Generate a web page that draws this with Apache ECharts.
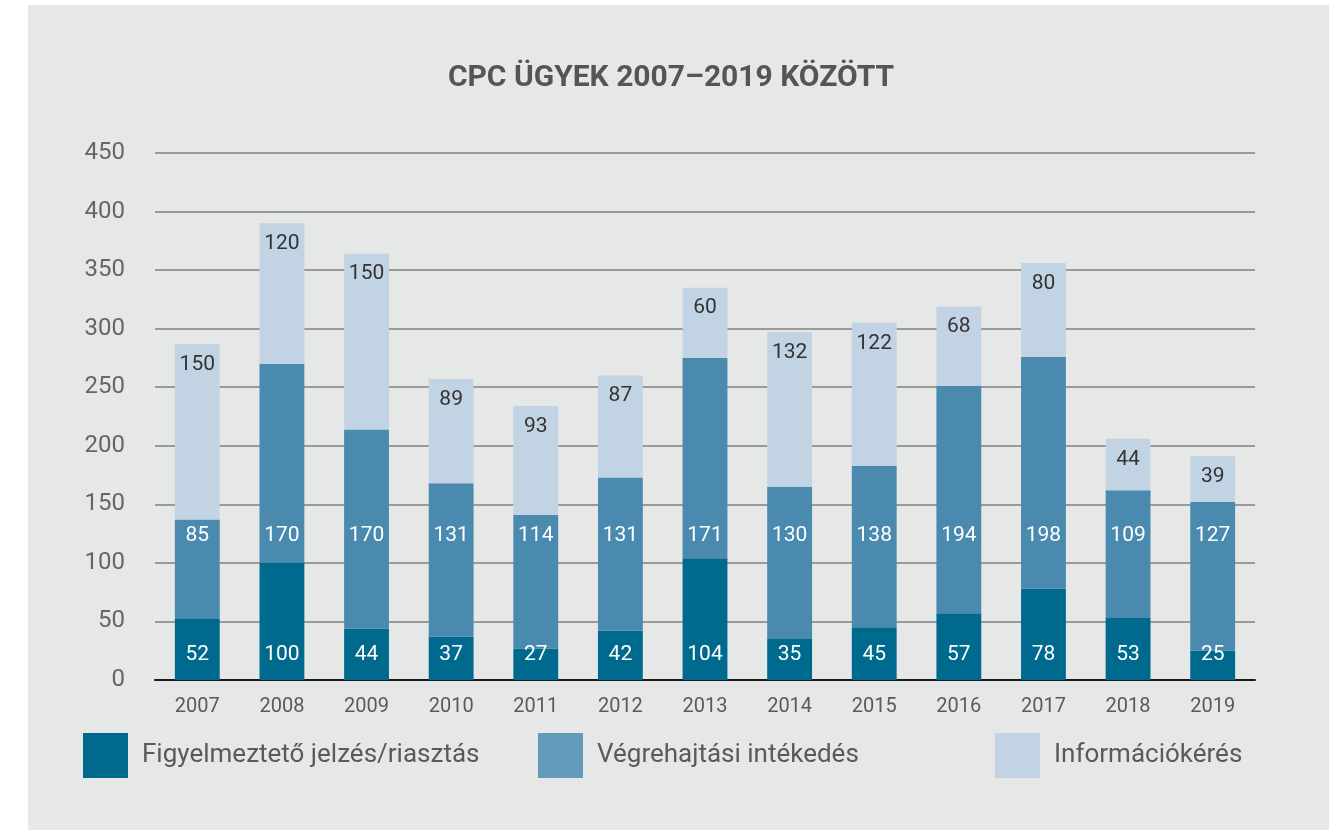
<!DOCTYPE html>
<html>
<head>
<meta charset="utf-8">
<script src="https://cdn.jsdelivr.net/npm/echarts@6/dist/echarts.min.js"></script>
<style>
html,body{margin:0;padding:0;background:#fff;}
#main{width:1342px;height:830px;}
</style>
</head>
<body>
<div id="main"></div>
<script>
const categories = ['2007','2008','2009','2010','2011','2012','2013','2014','2015','2016','2017','2018','2019'];
const figyelmezteto = [52,100,44,37,27,42,104,35,45,57,78,53,25];
const vegrehajtasi = [85,170,170,131,114,131,171,130,138,194,198,109,127];
const informacio = [150,120,150,89,93,87,60,132,122,68,80,44,39];
const seriesNames = ['Figyelmeztető jelzés/riasztás','Végrehajtási intékedés','Információkérés'];
const yTicks = [0,50,100,150,200,250,300,350,400,450];

const FONT = 'Roboto';
const cDark = '#006a8e', cMid = '#4a8aae', cLight = '#c2d3e3';
const legendColors = ['#006a8e','#6399b9','#c2d3e3'];

const chart = echarts.init(document.getElementById('main'));

function legend(i, left){
  return {
    data:[{name:seriesNames[i], itemStyle:{color:legendColors[i]}}],
    left:left, top:733, padding:0,
    itemWidth:45, itemHeight:45, icon:'rect',
    textStyle:{fontFamily:FONT, fontSize:26, color:'#5a5a5a', padding:[8,0,0,9]},
    selectedMode:false
  };
}

const option = {
  backgroundColor:'#ffffff',
  animation:false,
  graphic:[{type:'rect', z:-10, silent:true, shape:{x:28,y:5,width:1301,height:830}, style:{fill:'#e6e7e7'}}],
  title:{
    text:'CPC ÜGYEK 2007–2019 KÖZÖTT', left:'center', top:58,
    textStyle:{fontFamily:FONT, fontWeight:'bold', fontSize:30, color:'#555555'}
  },
  legend:[legend(0,83), legend(1,538), legend(2,995)],
  grid:{left:155, right:87, top:153, bottom:150},
  xAxis:{
    type:'category', data:categories,
    axisLine:{lineStyle:{color:'#1a1a1a', width:2}},
    axisTick:{show:false},
    axisLabel:{fontFamily:FONT, fontSize:20, color:'#5a5a5a', margin:17}
  },
  yAxis:{
    type:'value', min:0, max:450, interval:50,
    axisLine:{show:false}, axisTick:{show:false},
    axisLabel:{fontFamily:FONT, fontSize:24, color:'#666666', margin:30,
      formatter:v=>yTicks.includes(v)?String(v):''},
    splitLine:{lineStyle:{color:'#9a9a9a', width:2}}
  },
  series:[
    {name:seriesNames[0], type:'bar', stack:'t', barWidth:'53%', data:figyelmezteto,
     itemStyle:{color:cDark},
     label:{show:true, color:'#fff', fontFamily:FONT, fontSize:21, position:'insideBottom', distance:14}},
    {name:seriesNames[1], type:'bar', stack:'t', data:vegrehajtasi,
     itemStyle:{color:cMid},
     label:{show:true, color:'#fff', fontFamily:FONT, fontSize:21, position:'inside'}},
    {name:seriesNames[2], type:'bar', stack:'t', data:informacio,
     itemStyle:{color:cLight},
     label:{show:true, color:'#333', fontFamily:FONT, fontSize:21, position:'insideTop', distance:10}}
  ]
};
chart.setOption(option);

// place dark and mid labels on fixed baselines above the axis
const y0 = chart.convertToPixel({yAxisIndex:0}, 0);
const darkLabelY = y0 - 25, midLabelY = y0 - 144;
const darkData = figyelmezteto.map((v,i)=>{
  const top = chart.convertToPixel({yAxisIndex:0}, v);
  return {value:v, label:{position:['50%', darkLabelY - top], align:'center', verticalAlign:'middle'}};
});
const midData = vegrehajtasi.map((v,i)=>{
  const top = chart.convertToPixel({yAxisIndex:0}, v + figyelmezteto[i]);
  return {value:v, label:{position:['50%', midLabelY - top], align:'center', verticalAlign:'middle'}};
});
chart.setOption({series:[{data:darkData},{data:midData},{}]});
</script>
</body>
</html>
